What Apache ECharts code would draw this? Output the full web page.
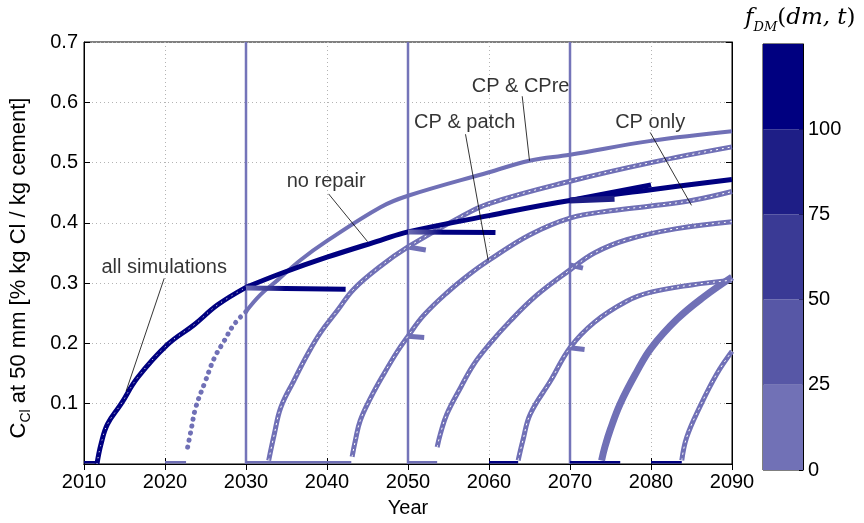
<!DOCTYPE html>
<html lang="en">
<head>
<meta charset="UTF-8">
<title>Chloride at 50 mm</title>
<script src="https://cdn.jsdelivr.net/npm/echarts/dist/echarts.min.js"></script>
<style>
    html, body { margin: 0; padding: 0; background: #fff; }
    #main { width: 864px; height: 523px; }
</style>
</head>
<body>
<div id="main"></div>
<script>
// axis ticks
var repairYears = [2030, 2050, 2070];
var cbLevels = [0, 25, 50, 75, 100];
var cbColors = ['#7171b6', '#5757a6', '#3a3a95', '#1e1e86', '#000080'];

// simulated chloride curves [year, C_Cl]
var allSims = [[2011.6, 0], [2012.1, 0.033], [2012.9, 0.066], [2014.6, 0.1], [2016.6, 0.143], [2020.3, 0.198],
    [2023.6, 0.231], [2026.5, 0.264], [2030, 0.293]];
var noRepair = [[2030, 0.293], [2034.3, 0.316], [2040, 0.343], [2046.6, 0.371], [2050, 0.385], [2060, 0.412],
    [2070, 0.437], [2080, 0.455], [2090, 0.472]];
var cpreDots = [[2022.8, 0.028], [2023.2, 0.055], [2023.8, 0.094], [2025, 0.138], [2026.1, 0.176], [2027.3, 0.204],
    [2028.5, 0.231], [2030, 0.253]];
var cpre = [[2030, 0.253], [2031.8, 0.281], [2033.9, 0.305], [2036.7, 0.338], [2040, 0.37], [2046.6, 0.426],
    [2050, 0.445], [2060, 0.484], [2065, 0.503], [2070, 0.513], [2080, 0.536], [2090, 0.552]];
var sim2033 = [[2032.8, 0.006], [2033.5, 0.05], [2034.3, 0.094], [2035.9, 0.138], [2037.6, 0.182], [2039.2, 0.218],
    [2041.3, 0.255], [2043.3, 0.29], [2046.6, 0.328], [2050, 0.36], [2056.5, 0.41], [2060, 0.432], [2070, 0.469],
    [2080, 0.5], [2090, 0.526]];
var sim2043 = [[2043.1, 0.012], [2043.5, 0.039], [2044.1, 0.072], [2045.4, 0.11], [2047, 0.149], [2048.7, 0.187],
    [2050, 0.212], [2051.9, 0.246], [2054.8, 0.284], [2057.7, 0.316], [2060, 0.338], [2065, 0.38], [2070, 0.408],
    [2075, 0.42], [2080, 0.428], [2085, 0.437], [2090, 0.452]];
var sim2054 = [[2053.6, 0.028], [2054, 0.05], [2054.8, 0.083], [2056.5, 0.127], [2058.1, 0.165], [2060, 0.198],
    [2062.6, 0.237], [2065.9, 0.28], [2070, 0.322], [2073, 0.35], [2077, 0.372], [2083, 0.39], [2090, 0.402]];
var sim2064 = [[2063.6, 0.006], [2064.2, 0.04], [2065.1, 0.083], [2067.6, 0.138], [2070, 0.193], [2073, 0.235],
    [2077, 0.27], [2080, 0.285], [2085, 0.297], [2090, 0.305]];
var sim2074 = [[2073.9, 0.006], [2074.3, 0.028], [2075, 0.058], [2076.2, 0.1], [2078.2, 0.152], [2080, 0.192],
    [2083.2, 0.24], [2086.5, 0.277], [2090, 0.31]];
var sim2084 = [[2083.8, 0.006], [2084.4, 0.044], [2086, 0.094], [2088.1, 0.149], [2090, 0.187]];

// flat parts after a repair (dark = many simulations)
var hold2030 = [[2030, 0.292], [2042.3, 0.29]];
var hold2050 = [[2050, 0.385], [2060.8, 0.384]];
var hold2070a = [[2070, 0.437], [2080, 0.463]];
var hold2070b = [[2070, 0.437], [2075.5, 0.44]];
var stubs = [[[2050, 0.36], [2052.2, 0.355]], [[2050, 0.212], [2052, 0.21]], [[2070, 0.33], [2071.6, 0.325]], [[2070, 0.193], [2071.8, 0.19]]];
var baseLight = [[2020, 2022.6], [2030, 2043], [2050, 2053.6]];
var baseNavy = [[2010, 2011.6], [2060, 2063.6], [2070, 2076.2], [2080, 2083.8]];

// annotations
var noteText = ['all simulations', 'no repair', 'CP & patch', 'CP & CPre', 'CP only'];
var notePos = [[2019.9, 0.326], [2039.9, 0.468], [2057, 0.567], [2063.9, 0.627], [2079.9, 0.566]];
var noteLines = [[[2019.9, 0.308], [2015.2, 0.121]], [[2040.2, 0.448], [2045.0, 0.369]], [[2057.1, 0.547], [2059.9, 0.338]],
    [[2064.1, 0.61], [2065.0, 0.503]], [[2079.9, 0.55], [2085.0, 0.429]]];

var LIGHT = '#7070b6';
var NAVY = '#000080';
var FONT = 'Liberation Sans, Arial, sans-serif';
var FS = 20;

function line(data, color, width, extra) {
    var s = {
        type: 'line', data: data, symbol: 'none', smooth: 0.4,
        lineStyle: { color: color, width: width }, silent: true, animation: false, z: 3
    };
    return Object.assign(s, extra || {});
}

var series = [];
repairYears.forEach(function (y) {
    series.push(line([[y, 0], [y, 0.7]], '#7474b9', 2.5, { smooth: false, z: 2 }));
});
baseLight.forEach(function (b) {
    series.push(line([[b[0], 0.003], [b[1], 0.003]], LIGHT, 2.5, { smooth: false }));
});
baseNavy.forEach(function (b) {
    series.push(line([[b[0], 0.003], [b[1], 0.003]], NAVY, 2.5, { smooth: false }));
});
// light curves with hollow-marker look
[sim2033, sim2043, sim2054, sim2064, sim2084].forEach(function (d) {
    series.push(line(d, LIGHT, 5));
    series.push(line(d, '#ffffff', 1, { lineStyle: { color: '#ffffff', width: 1, type: [2, 4] }, z: 4 }));
});
series.push(line(sim2074, LIGHT, 7));
series.push(line(cpreDots, LIGHT, 5, { lineStyle: { color: LIGHT, width: 5, type: [0.1, 7], cap: 'round' } }));
series.push(line(cpre, LIGHT, 4));
stubs.forEach(function (d) {
    series.push(line(d, LIGHT, 5, { smooth: false }));
});
series.push(line(allSims, NAVY, 5, { z: 5 }));
series.push(line(allSims, '#ffffff', 1, { lineStyle: { color: '#ffffff', width: 1, type: [1, 5] }, z: 6 }));
series.push(line(noRepair, NAVY, 5, { z: 5 }));
var grad = new echarts.graphic.LinearGradient(0, 0, 1, 0, [
    { offset: 0, color: LIGHT }, { offset: 0.25, color: '#3a3a95' }, { offset: 0.4, color: NAVY }, { offset: 1, color: NAVY }]);
series.push(line(hold2030, grad, 5, { smooth: false, z: 5 }));
series.push(line(hold2050, grad, 5, { smooth: false, z: 5 }));
series.push(line(hold2070a, NAVY, 5, { smooth: false, z: 5 }));
series.push(line(hold2070b, '#1e1e86', 6, { smooth: false, z: 5 }));
noteLines.forEach(function (d) {
    series.push(line(d, '#000', 0.8, { smooth: false, z: 8 }));
});
series.push({
    type: 'scatter', symbolSize: 0, silent: true, animation: false, z: 9,
    data: notePos.map(function (p, i) { return { value: p, name: noteText[i] }; }),
    label: { show: true, position: 'inside', formatter: '{b}', color: '#000', fontSize: FS, fontFamily: FONT }
});
// colour bar as stacked bars
cbColors.forEach(function (c) {
    series.push({
        type: 'bar', xAxisIndex: 2, yAxisIndex: 2, stack: 'cb', data: [25], barWidth: '100%',
        itemStyle: { color: c }, silent: true, animation: false
    });
});

var chart = echarts.init(document.getElementById('main'));
chart.setOption({
    animation: false,
    title: {
        text: '{f|f}{s|DM}{n|(}{f|dm, t}{n|)}', left: 740, top: 2,
        textStyle: {
            fontWeight: 'normal',
            rich: {
                f: { fontFamily: 'DejaVu Serif', fontStyle: 'italic', fontWeight: 'normal', fontSize: 23, lineHeight: 28, verticalAlign: 'top', color: '#000' },
                s: { fontFamily: 'DejaVu Serif', fontStyle: 'italic', fontWeight: 'normal', fontSize: 13, lineHeight: 28, verticalAlign: 'top', padding: [14, 0, 0, 0], color: '#000' },
                n: { fontFamily: 'DejaVu Serif', fontWeight: 'normal', fontSize: 23, lineHeight: 28, verticalAlign: 'top', color: '#000' }
            }
        }
    },
    grid: [
        { left: 83, top: 42, width: 649, height: 425, show: true, borderColor: '#000', borderWidth: 1 },
        { left: 763, top: 44, width: 40, height: 426, show: true, borderColor: '#000', borderWidth: 1 }
    ],
    xAxis: [
        {
            type: 'value', min: 2010, max: 2090, interval: 10, gridIndex: 0,
            name: 'Year', nameLocation: 'middle', nameGap: 34,
            nameTextStyle: { fontSize: FS, color: '#000', fontFamily: FONT },
            axisLine: { lineStyle: { color: '#000', width: 1 } },
            axisTick: { inside: true, length: 6, lineStyle: { color: '#000' } },
            axisLabel: { color: '#000', fontSize: FS, fontFamily: FONT, margin: 8, formatter: function (v) { return String(v); } },
            splitLine: { show: true, lineStyle: { color: '#b4b4b4', type: [1, 3] } }
        },
        {
            type: 'value', min: 2010, max: 2090, interval: 10, gridIndex: 0, position: 'top',
            axisLine: { lineStyle: { color: '#000' } },
            axisTick: { inside: true, length: 6, lineStyle: { color: '#000' } },
            axisLabel: { show: false }, splitLine: { show: false }
        },
        {
            type: 'category', data: ['cb'], gridIndex: 1,
            axisLine: { show: false }, axisTick: { show: false }, axisLabel: { show: false }
        }
    ],
    yAxis: [
        {
            type: 'value', min: 0, max: 0.7, interval: 0.1, gridIndex: 0,
            name: '{t|C}{s|Cl}{t| at 50 mm [% kg Cl / kg cement]}', nameLocation: 'middle', nameGap: 50,
            nameTextStyle: {
                padding: [0, 30, 0, 0],
                rich: {
                    t: { fontSize: 22, fontFamily: FONT, color: '#000', lineHeight: 26, verticalAlign: 'top' },
                    s: { fontSize: 14, fontFamily: FONT, color: '#000', lineHeight: 26, verticalAlign: 'top', padding: [11, 0, 0, 0] }
                }
            },
            axisLine: { lineStyle: { color: '#000' } },
            axisTick: { inside: true, length: 6, lineStyle: { color: '#000' } },
            axisLabel: {
                color: '#000', fontSize: FS, fontFamily: FONT, margin: 6,
                formatter: function (v) { return v === 0 ? '' : v.toFixed(1); }
            },
            splitLine: { show: true, lineStyle: { color: '#b4b4b4', type: [1, 3] } }
        },
        {
            type: 'value', min: 0, max: 0.7, interval: 0.1, gridIndex: 0, position: 'right',
            axisLine: { show: true, lineStyle: { color: '#000' } },
            axisTick: { show: true, inside: true, length: 6, lineStyle: { color: '#000' } },
            axisLabel: { show: false }, splitLine: { show: false }
        },
        {
            type: 'value', min: 0, max: 125, interval: 25, gridIndex: 1, position: 'right',
            axisLine: { show: true, lineStyle: { color: '#000' } },
            axisTick: { show: true, inside: true, length: 4, lineStyle: { color: '#000' } },
            axisLabel: {
                color: '#000', fontSize: FS, fontFamily: FONT, margin: 5,
                formatter: function (v) { return cbLevels.indexOf(v) >= 0 ? String(v) : ''; }
            },
            splitLine: { show: false }
        }
    ],
    series: series
});
</script>
</body>
</html>
